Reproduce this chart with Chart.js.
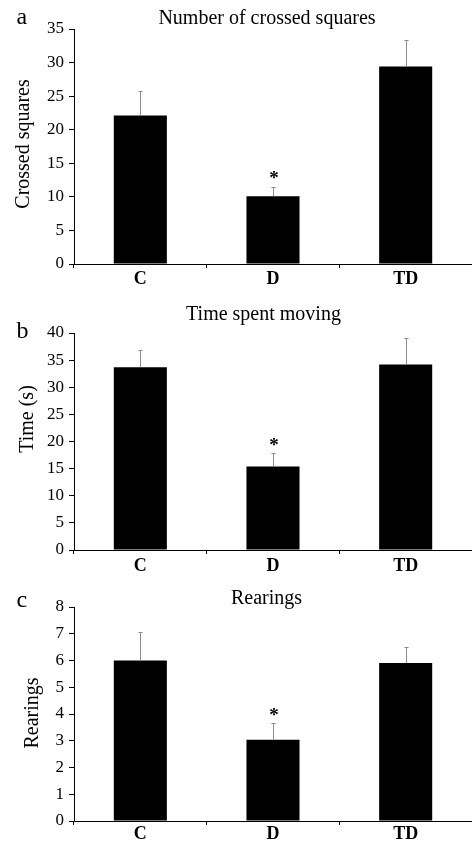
<!DOCTYPE html>
<html><head><meta charset="utf-8">
<script src="https://cdn.jsdelivr.net/npm/chart.js@4.4.1/dist/chart.umd.min.js"></script>
<style>
html,body{margin:0;padding:0;background:#fff;}
#wrap{position:relative;width:472px;height:842px;overflow:hidden;}
.p{position:absolute;left:0;width:472px;}
canvas{display:block;}
</style></head><body>
<div id="wrap">
<div class="p" style="top:0px;height:290px"><canvas id="ca" width="472" height="290"></canvas></div>
<div class="p" style="top:290px;height:282px"><canvas id="cb" width="472" height="282"></canvas></div>
<div class="p" style="top:572px;height:270px"><canvas id="cc" width="472" height="270"></canvas></div>
</div>
<script>
// ---- data ----
const categories = ['C', 'D', 'TD'];
const significance = ['', '*', ''];

const crossedMeans = [22.1, 10.1, 29.4];
const crossedSem   = [3.6, 1.4, 4.0];
const crossedTicks = [0, 5, 10, 15, 20, 25, 30, 35];

const movingMeans = [33.7, 15.4, 34.2];
const movingSem   = [3.2, 2.45, 4.9];
const movingTicks = [0, 5, 10, 15, 20, 25, 30, 35, 40];

const rearingMeans = [6.0, 3.04, 5.91];
const rearingSem   = [1.08, 0.62, 0.6];
const rearingTicks = [0, 1, 2, 3, 4, 5, 6, 7, 8];

const SERIF = '"Liberation Serif", "Times New Roman", Times, serif';

const errorPlugin = {
  id: 'errBars',
  afterDatasetsDraw(chart) {
    const ctx = chart.ctx;
    const ds = chart.data.datasets[0];
    const meta = chart.getDatasetMeta(0);
    const y = chart.scales.y;
    ctx.save();
    meta.data.forEach((bar, i) => {
      const top = y.getPixelForValue(ds.data[i] + ds.sem[i]);
      const x = Math.round(bar.x) + 0.5;
      ctx.strokeStyle = '#8c8c8c';
      ctx.lineWidth = 1;
      ctx.beginPath();
      ctx.moveTo(x, bar.y);
      ctx.lineTo(x, Math.round(top) + 0.5);
      ctx.moveTo(x - 2, Math.round(top) + 0.5);
      ctx.lineTo(x + 2, Math.round(top) + 0.5);
      ctx.stroke();
      if (ds.sig[i]) {
        ctx.fillStyle = '#000';
        ctx.font = 'bold 19px ' + SERIF;
        ctx.textAlign = 'center';
        ctx.textBaseline = 'alphabetic';
        ctx.fillText(ds.sig[i], bar.x + 1, top - 2.5);
      }
    });
    ctx.restore();
  }
};

const textPlugin = {
  id: 'panelText',
  afterDraw(chart, args, o) {
    const ctx = chart.ctx;
    ctx.save();
    ctx.fillStyle = '#000';
    ctx.textBaseline = 'alphabetic';
    ctx.font = '24px ' + SERIF;
    ctx.textAlign = 'left';
    ctx.fillText(o.letter, o.letterX, o.letterY);
    ctx.font = '20px ' + SERIF;
    ctx.textAlign = 'center';
    ctx.fillText(o.title, o.titleX, o.titleY);
    ctx.translate(o.yTitleX, o.yTitleY);
    ctx.rotate(-Math.PI / 2);
    ctx.fillText(o.yTitle, 0, 0);
    ctx.restore();
  }
};

function makePanel(id, means, sems, ticks, p) {
  const canvas = document.getElementById(id);
  const H = canvas.height;
  new Chart(canvas, {
    type: 'bar',
    data: {
      labels: categories,
      datasets: [{
        data: means,
        sem: sems,
        sig: significance,
        backgroundColor: '#000',
        borderWidth: 0,
        categoryPercentage: 1.0,
        barPercentage: 0.4
      }]
    },
    options: {
      responsive: false,
      animation: false,
      devicePixelRatio: 1,
      layout: { padding: { top: p.areaTop, left: 0, right: 0, bottom: 0 } },
      plugins: {
        legend: { display: false },
        tooltip: { enabled: false },
        title: { display: false },
        panelText: p.text
      },
      scales: {
        x: {
          grid: { display: true, offset: true, drawOnChartArea: false, color: '#000', tickLength: 4, lineWidth: 1 },
          border: { display: true, color: '#000', width: 1 },
          ticks: { color: '#000', font: { family: SERIF, size: 18, weight: 'bold', lineHeight: 1 }, padding: p.xPad, maxRotation: 0 },
          afterFit(s) { s.height = H - p.areaBottom; }
        },
        y: {
          min: ticks[0],
          max: ticks[ticks.length - 1],
          afterBuildTicks(s) { s.ticks = ticks.map(v => ({ value: v })); },
          grid: { display: true, drawOnChartArea: false, color: '#000', tickLength: 5, lineWidth: 1 },
          border: { display: true, color: '#000', width: 1 },
          ticks: { color: '#000', font: { family: SERIF, size: 17 }, padding: 5 },
          afterFit(s) { s.width = 74; }
        }
      }
    },
    plugins: [errorPlugin, textPlugin]
  });
}

makePanel('ca', crossedMeans, crossedSem, crossedTicks, {
  areaTop: 29, areaBottom: 264, xPad: 2,
  text: { letter: 'a', letterX: 16.5, letterY: 23.5, title: 'Number of crossed squares', titleX: 267, titleY: 24,
          yTitle: 'Crossed squares', yTitleX: 29, yTitleY: 144 }
});
makePanel('cb', movingMeans, movingSem, movingTicks, {
  areaTop: 43, areaBottom: 260, xPad: 3,
  text: { letter: 'b', letterX: 16.5, letterY: 48.3, title: 'Time spent moving', titleX: 263.5, titleY: 29.5,
          yTitle: 'Time (s)', yTitleX: 32.5, yTitleY: 129 }
});
makePanel('cc', rearingMeans, rearingSem, rearingTicks, {
  areaTop: 35, areaBottom: 249, xPad: 0.5,
  text: { letter: 'c', letterX: 16.5, letterY: 35.3, title: 'Rearings', titleX: 266.5, titleY: 32.3,
          yTitle: 'Rearings', yTitleX: 37.5, yTitleY: 141 }
});
</script>
</body></html>
